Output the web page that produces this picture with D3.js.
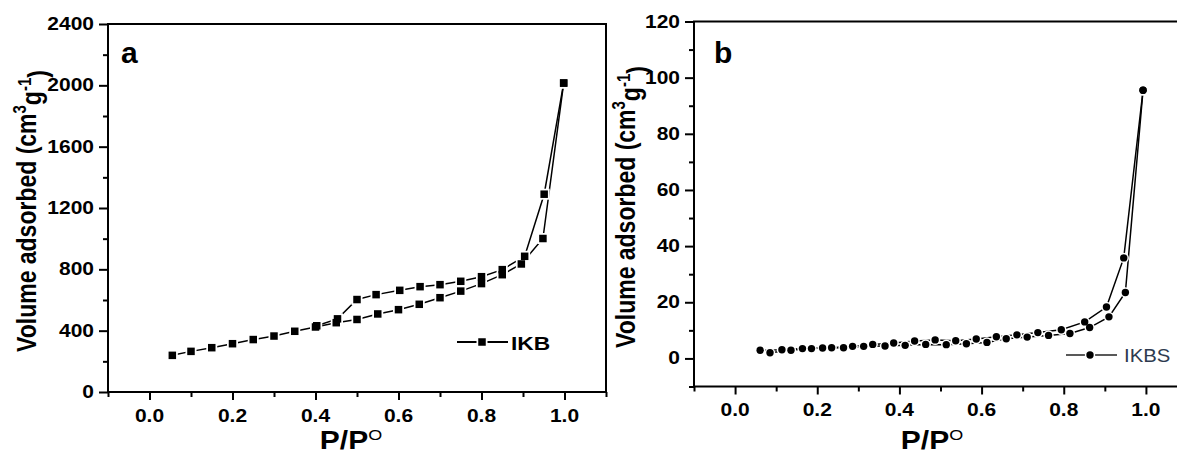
<!DOCTYPE html>
<html>
<head>
<meta charset="utf-8">
<script src="https://cdn.jsdelivr.net/npm/d3@7"></script>
<style>
  html, body { margin: 0; padding: 0; background: #fff; }
  svg { display: block; }
  text { font-family: "Liberation Sans", Arial, sans-serif; fill: #000; }
</style>
</head>
<body>
<svg id="chart" width="1177" height="459"></svg>
<script>
// ---------- Data ----------
// Panel a: IKB (adsorption / desorption branches)
const aAdsX = [0.055,0.10,0.15,0.20,0.25,0.30,0.35,0.40,0.45,0.50,0.55,0.60,0.65,0.70,0.75,0.80,0.85,0.896,0.948,0.998];
const aAdsY = [239,265,289,315,342,365,396,424,452,473,509,537,572,615,658,707,765,835,1001,2015];
const aDesX = [0.998,0.951,0.904,0.85,0.80,0.75,0.70,0.652,0.603,0.546,0.50,0.453,0.403];
const aDesY = [2015,1290,885,798,752,722,700,687,663,635,603,477,432];
// Panel b: IKBS
const bAdsX = [0.061,0.114,0.164,0.213,0.264,0.313,0.365,0.414,0.464,0.514,0.563,0.613,0.660,0.711,0.763,0.815,0.863,0.910,0.950,0.993];
const bAdsY = [2.9,3.1,3.5,3.7,3.8,4.3,4.4,4.65,5.0,4.9,5.25,5.7,7.0,7.6,8.2,8.9,11.0,14.8,23.5,95.5];
const bDesX = [0.993,0.946,0.904,0.851,0.794,0.737,0.686,0.636,0.587,0.537,0.487,0.437,0.386,0.335,0.286,0.235,0.186,0.136,0.085];
const bDesY = [95.5,35.8,18.3,13.0,10.2,9.2,8.4,7.7,6.9,6.3,6.6,6.2,5.5,5.0,4.3,3.8,3.5,2.9,2.0];

// Ticks
const xMajor = [0.0,0.2,0.4,0.6,0.8,1.0];
const xMinor = [-0.1,0.1,0.3,0.5,0.7,0.9,1.1];
const aYMajor = [0,400,800,1200,1600,2000,2400];
const aYMinor = [200,600,1000,1400,1800,2200];
const bYMajor = [0,20,40,60,80,100,120];
const bYMinor = [-10,10,30,50,70,90,110];

const legendA = "IKB";
const legendB = "IKBS";
const yTitle = "Volume adsorbed (cm";
const xTitle = "P/P";

// ---------- Layout ----------
const svg = d3.select("#chart");
const SX = 1.2; // horizontal stretch of the original image text

const panels = [
  { x: d3.scaleLinear().domain([-0.1,1.1]).range([108,606]),
    y: d3.scaleLinear().domain([0,2400]).range([392,24]),
    yMajor: aYMajor, yMinor: aYMinor, yFmt: d3.format("d"),
    series: [[aAdsX,aAdsY],[aDesX,aDesY]], marker: "square",
    letter: "a", letterX: 121, yTitleX: 36, xTitleX: 351,
    legend: legendA },
  { x: d3.scaleLinear().domain([-0.1,1.1]).range([694,1187]),
    y: d3.scaleLinear().domain([-10,120]).range([386.5,21.5]),
    yMajor: bYMajor, yMinor: bYMinor, yFmt: d3.format("d"),
    series: [[bAdsX,bAdsY],[bDesX,bDesY]], marker: "circle",
    letter: "b", letterX: 714, yTitleX: 635, xTitleX: 932,
    legend: legendB }
];

function stretchedText(g, x, y, str, size, weight, anchor, sx) {
  return g.append("text")
    .attr("transform", `translate(${x},${y}) scale(${sx || SX},1)`)
    .attr("text-anchor", anchor || "start")
    .style("font-size", size + "px")
    .style("font-weight", weight || "bold")
    .text(str);
}

panels.forEach((p, pi) => {
  const g = svg.append("g");
  const [x0, x1] = p.x.range();
  const [y0, y1] = p.y.range(); // y0 bottom, y1 top

  // frame
  g.append("rect")
    .attr("x", x0).attr("y", y1)
    .attr("width", x1 - x0).attr("height", y0 - y1)
    .attr("fill", "none").attr("stroke", "#000").attr("stroke-width", 2);

  // x axis ticks
  const xa = g.append("g").attr("transform", `translate(0,${y0})`);
  xa.call(d3.axisBottom(p.x).tickValues(xMajor).tickSize(8).tickFormat(""));
  const xm = g.append("g").attr("transform", `translate(0,${y0})`);
  xm.call(d3.axisBottom(p.x).tickValues(xMinor).tickSize(5).tickFormat(""));
  // y axis ticks
  const ya = g.append("g").attr("transform", `translate(${x0},0)`);
  ya.call(d3.axisLeft(p.y).tickValues(p.yMajor).tickSize(9).tickFormat(""));
  const ym = g.append("g").attr("transform", `translate(${x0},0)`);
  ym.call(d3.axisLeft(p.y).tickValues(p.yMinor).tickSize(5).tickFormat(""));
  [xa, xm, ya, ym].forEach(a => {
    a.select(".domain").remove();
    a.selectAll(".tick line").attr("stroke", "#000").attr("stroke-width", 2);
  });

  // tick labels
  xMajor.forEach(v => stretchedText(g, p.x(v), y0 + 29.5, d3.format(".1f")(v), 17.5, "bold", "middle"));
  p.yMajor.forEach(v => stretchedText(g, x0 - 14, p.y(v) + 6, p.yFmt(v), 17.5, "bold", "end"));

  // y title
  const yt = g.append("text")
    .attr("transform", `translate(${p.yTitleX},${(y0 + y1) / 2 + 3}) rotate(-90) scale(1,${SX})`)
    .attr("text-anchor", "middle")
    .style("font-size", "23px").style("font-weight", "bold");
  yt.append("tspan").text(yTitle);
  yt.append("tspan").attr("dy", "-0.55em").style("font-size", "15px").text("3");
  yt.append("tspan").attr("dy", "0.55em").text("g");
  yt.append("tspan").attr("dy", "-0.55em").style("font-size", "15px").text("-1");
  yt.append("tspan").attr("dy", "0.55em").text(")");

  // x title
  const xt = g.append("text")
    .attr("transform", `translate(${p.xTitleX},449) scale(${SX},1)`)
    .attr("text-anchor", "middle")
    .style("font-size", "25px").style("font-weight", "bold");
  xt.append("tspan").text(xTitle);
  xt.append("tspan").attr("dy", "-0.6em").style("font-size", "15px").style("font-weight", "normal").text("O");

  // panel letter
  g.append("text").attr("x", p.letterX).attr("y", 63)
    .style("font-size", "30px").style("font-weight", "bold").text(p.letter);

  // series
  const line = d3.line().x(d => p.x(d[0])).y(d => p.y(d[1]));
  const pts = [];
  p.series.forEach(([xs, ys]) => {
    const data = xs.map((v, i) => [v, ys[i]]);
    pts.push(...data);
    g.append("path").datum(data).attr("d", line)
      .attr("fill", "none").attr("stroke", "#000").attr("stroke-width", 1.5);
  });
  const drawMarker = (sel, cx, cy, halo) => {
    if (p.marker === "square") {
      const s = halo ? 11 : 7.5;
      sel.append("rect").attr("x", cx - s / 2).attr("y", cy - s / 2)
        .attr("width", s).attr("height", s).attr("fill", halo ? "#fff" : "#000");
    } else {
      sel.append("circle").attr("cx", cx).attr("cy", cy)
        .attr("r", halo ? 5.2 : 3.7).attr("fill", halo ? "#fff" : "#000");
    }
  };
  pts.forEach(d => drawMarker(g, p.x(d[0]), p.y(d[1]), true));
  pts.forEach(d => drawMarker(g, p.x(d[0]), p.y(d[1]), false));

  // legend
  if (pi === 0) {
    g.append("line").attr("x1", 457).attr("x2", 508).attr("y1", 342).attr("y2", 342)
      .attr("stroke", "#000").attr("stroke-width", 2);
    drawMarker(g, 482, 342, true);
    drawMarker(g, 482, 342, false);
    stretchedText(g, 511, 349.5, p.legend, 19, "bold", "start");
  } else {
    g.append("line").attr("x1", 1066).attr("x2", 1117).attr("y1", 355).attr("y2", 355)
      .attr("stroke", "#222").attr("stroke-width", 1.5);
    drawMarker(g, 1090, 355, true);
    drawMarker(g, 1090, 355, false);
    stretchedText(g, 1124, 362, p.legend, 18, "normal", "start", 1.13).style("fill", "#2e3a4f");
  }
});
</script>
</body>
</html>
